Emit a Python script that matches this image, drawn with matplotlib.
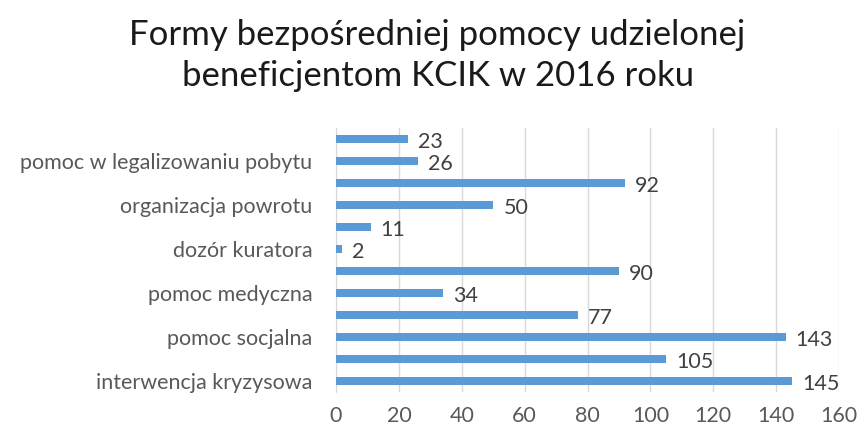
import matplotlib.pyplot as plt
import numpy as np

plt.rcParams['font.family'] = ['Lato', 'DejaVu Sans']

# dane (od dołu wykresu)
kategorie = ['interwencja kryzysowa', '', 'pomoc socjalna', '', 'pomoc medyczna', '',
             'dozór kuratora', '', 'organizacja powrotu', '', 'pomoc w legalizowaniu pobytu', '']
wartosci = [145, 105, 143, 77, 34, 90, 2, 11, 50, 92, 26, 23]
ticki_x = [0, 20, 40, 60, 80, 100, 120, 140, 160]

fig = plt.figure(figsize=(8.58, 4.30), dpi=100)
ax = fig.add_axes([0.3916, 0.088, 0.978 - 0.3916, 0.702 - 0.088])

y = np.arange(len(wartosci))
ax.barh(y, wartosci, height=0.36, color='#5b9bd5', zorder=3)

for yi, v in zip(y, wartosci):
    ax.text(v + 3.2, yi - 0.12, str(v), va='center', ha='left', fontsize=15.5, color='#404040')

ax.set_xlim(0, 160)
ax.set_ylim(-0.5, len(wartosci) - 0.5)
ax.set_xticks(ticki_x)
ax.set_yticks(y)
ax.set_yticklabels(kategorie)
ax.tick_params(axis='both', length=0, labelsize=15.5, colors='#595959')
ax.tick_params(axis='x', pad=10)
ax.tick_params(axis='y', pad=17)
ax.grid(axis='x', color='#d9d9d9', linewidth=1, zorder=0)
for s in ['top', 'right', 'bottom']:
    ax.spines[s].set_visible(False)
ax.spines['left'].set_color('#d9d9d9')

fig.suptitle('Formy bezpośredniej pomocy udzielonej\nbeneficjentom KCIK w 2016 roku',
             x=0.51, y=0.955, fontsize=25, color='#1a1a1a', linespacing=1.35)

fig.savefig('out.png', dpi=100)
